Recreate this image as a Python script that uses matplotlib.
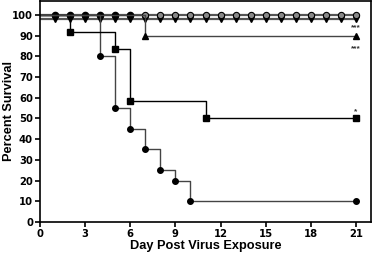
import matplotlib.pyplot as plt

# Kaplan-Meier style survival data (day, percent)
days_all = list(range(0, 22))
top_open = [100] * 22          # surviving group, open circles
top_down = [98] * 22           # surviving group, down triangles (offset)

circ_days = [0, 4, 5, 6, 7, 8, 9, 10, 21]
circ_surv = [100, 80, 55, 45, 35, 25, 20, 10, 10]

sq_days = [0, 2, 5, 6, 11, 21]
sq_surv = [100, 91.7, 83.3, 58.3, 50, 50]

tri_days = [0, 7, 21]
tri_surv = [100, 90, 90]

stars = [(21, 94.0, "***"), (21, 83.5, "***"), (21, 53.0, "*")]

x_ticks = [0, 3, 6, 9, 12, 15, 18, 21]
y_ticks = list(range(0, 101, 10))


def main():
    plt.rcParams['font.family'] = ['Liberation Sans', 'DejaVu Sans']
    plt.rcParams['font.weight'] = 'bold'

    fig = plt.figure(figsize=(3.73, 2.56), dpi=100)
    ax = fig.add_axes([0.107, 0.133, 0.888, 0.863])

    # top surviving groups
    ax.step(days_all, top_open, where='post', color='#555555', lw=1.6)
    ax.step(days_all, top_down, where='post', color='#555555', lw=1.6)
    ax.plot(days_all[1:], top_down[1:], 'v', color='black', ms=4.5, ls='none')
    ax.plot(days_all[1:7], top_open[1:7], 'o', color='black', ms=4.5, ls='none')
    ax.plot(days_all[7:], top_open[7:], 'o', mfc='#888888', mec='black',
            mew=0.8, ms=4.5, ls='none')

    # dying groups
    ax.step(circ_days, circ_surv, where='post', color='#444444', lw=1.0)
    ax.plot(circ_days[1:], circ_surv[1:], 'o', color='black', ms=4, ls='none')

    ax.step(sq_days, sq_surv, where='post', color='black', lw=1.0)
    ax.plot(sq_days[1:], sq_surv[1:], 's', color='black', ms=4, ls='none')

    ax.step(tri_days, tri_surv, where='post', color='#444444', lw=1.0)
    ax.plot(tri_days[1:], tri_surv[1:], '^', color='black', ms=4.5, ls='none')

    for x, y, s in stars:
        ax.text(x, y, s, ha='center', va='center', fontsize=6, color='#333333')

    ax.set_xlim(0, 22)
    ax.set_ylim(0, 106.7)
    ax.set_xticks(x_ticks)
    ax.set_yticks(y_ticks)
    ax.tick_params(width=1.2, length=3.5, direction='out', pad=1.5)
    for lab in ax.get_xticklabels() + ax.get_yticklabels():
        lab.set_family('DejaVu Sans')
        lab.set_fontsize(7.2)
        lab.set_fontweight('bold')
    for sp in ax.spines.values():
        sp.set_linewidth(1.2)

    ax.set_xlabel("Day Post Virus Exposure", fontsize=9.2, fontweight='bold',
                  labelpad=1)
    ax.set_ylabel("Percent Survival", fontsize=9.2, fontweight='bold')
    ax.yaxis.set_label_coords(-0.074, 0.5)

    fig.savefig("out.png", dpi=100)


if __name__ == "__main__":
    main()
